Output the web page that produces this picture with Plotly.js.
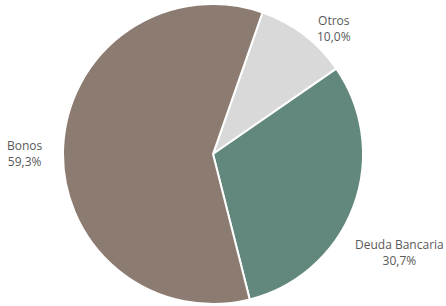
<!DOCTYPE html>
<html><head><meta charset="utf-8">
<script src="https://cdn.plot.ly/plotly-3.0.1.min.js"></script>
<style>html,body{margin:0;padding:0;background:#fff;}#chart{width:446px;height:306px;}</style>
</head><body><div id="chart"></div>
<script>
const labels = ["Otros", "Deuda Bancaria", "Bonos"];
const values = [10.0, 30.7, 59.3];
const colors = ["#d9d9d9", "#62877c", "#8c7b70"];
const labelPos = [[334, 28], [399, 253], [25, 153]];

const W = 446, H = 306;
const total = values.reduce((a, b) => a + b, 0);
const annotations = labels.map((lab, i) => ({
  xref: "paper", yref: "paper",
  x: labelPos[i][0] / W, y: 1 - labelPos[i][1] / H,
  xanchor: "center", yanchor: "middle", align: "center",
  showarrow: false,
  text: lab + "<br>" + (values[i] / total * 100).toFixed(1).replace(".", ",") + "%",
  font: {family: "Open Sans", size: 12, color: "#595959"}
}));

Plotly.newPlot("chart", [{
  type: "pie",
  labels: labels,
  values: values,
  sort: false,
  direction: "clockwise",
  rotation: 19.3,
  marker: {colors: colors, line: {color: "#ffffff", width: 2}},
  textinfo: "none",
  domain: {x: [0.1413, 0.8139], y: [0.0065, 0.987]},
  hoverinfo: "none"
}], {
  width: W, height: H,
  margin: {l: 0, r: 0, t: 0, b: 0},
  showlegend: false,
  separators: ",.",
  annotations: annotations,
  paper_bgcolor: "#ffffff"
}, {displayModeBar: false, staticPlot: true});
</script></body></html>
